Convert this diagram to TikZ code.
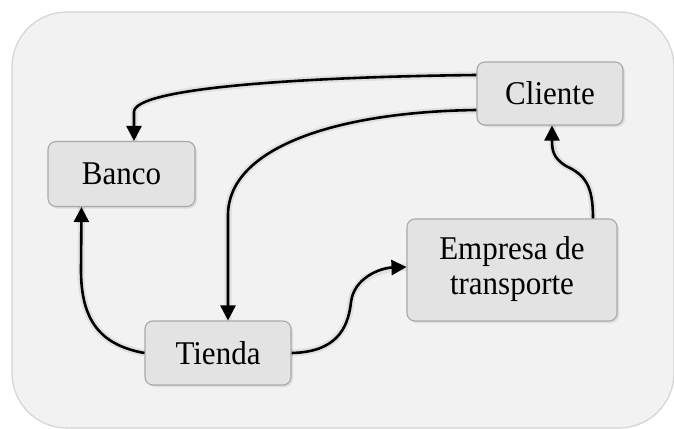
\documentclass[tikz,border=0pt]{standalone}
\usepackage{fontspec}
\setmainfont{Liberation Serif}
\usetikzlibrary{arrows.meta,shadows}
\definecolor{panelfill}{HTML}{F2F2F2}
\definecolor{panelline}{HTML}{D4D4D4}
\definecolor{boxfill}{HTML}{E3E3E3}
\definecolor{boxline}{HTML}{A9A9A9}
% slightly tall lettering
\newcommand{\talltext}[1]{\scalebox{1}[1.07]{#1}}
\tikzset{
  entity/.style={draw=boxline, fill=boxfill, line width=1.1pt, rounded corners=8pt,
    inner sep=0pt, align=center, font=\fontsize{31}{33}\selectfont,
    drop shadow={opacity=0.18, shadow xshift=2pt, shadow yshift=-2pt}},
  flow/.style={line width=2.6pt, -{Triangle[length=15pt,width=15pt]},
    preaction={draw=black, opacity=0.07, line width=7pt, -}},
}
\begin{document}
\begin{tikzpicture}[x=1pt,y=-1pt]
\useasboundingbox (0,0) rectangle (674,428);
\clip (0,0) rectangle (674,428);
% background panel
\draw[fill=panelfill, draw=panelline, line width=1.2pt, rounded corners=55pt]
  (12,12) rectangle (674,428);
% participants
\node[entity, minimum width=147pt, minimum height=65pt] (banco)   at (121.5,174) {\talltext{Banco}};
\node[entity, minimum width=146pt, minimum height=63pt] (cliente) at (550,93.5) {\talltext{Cliente}};
\node[entity, minimum width=210pt, minimum height=102pt] (empresa) at (512,270)
  {\talltext{\begin{tabular}{@{}c@{}}Empresa de\\transporte\end{tabular}}};
\node[entity, minimum width=146pt, minimum height=64pt] (tienda)  at (218,353) {\talltext{Tienda}};
% flows
\draw[flow] ([yshift=18.5pt]cliente.west) .. controls (300,77) and (134,88) .. (134,112)
  -- ([xshift=12.5pt]banco.north);
\draw[flow] ([yshift=-16.5pt]cliente.west) .. controls (330,112) and (228,150) .. (228,215)
  -- ([xshift=10pt]tienda.north);
\draw[flow] (tienda.west) .. controls (100,345) and (81,320) .. (81,270)
  -- ([xshift=-40pt]banco.south);
\draw[flow] (tienda.east) .. controls (335,352) and (348,330) .. (351,302)
  .. controls (354,278) and (380,268) .. ([yshift=3pt]empresa.west);
\draw[flow] ([xshift=81pt]empresa.north) .. controls (593,185) and (585,175) .. (566,166)
  .. controls (553,158) and (552,150) .. ([xshift=2pt]cliente.south);
\end{tikzpicture}
\end{document}
